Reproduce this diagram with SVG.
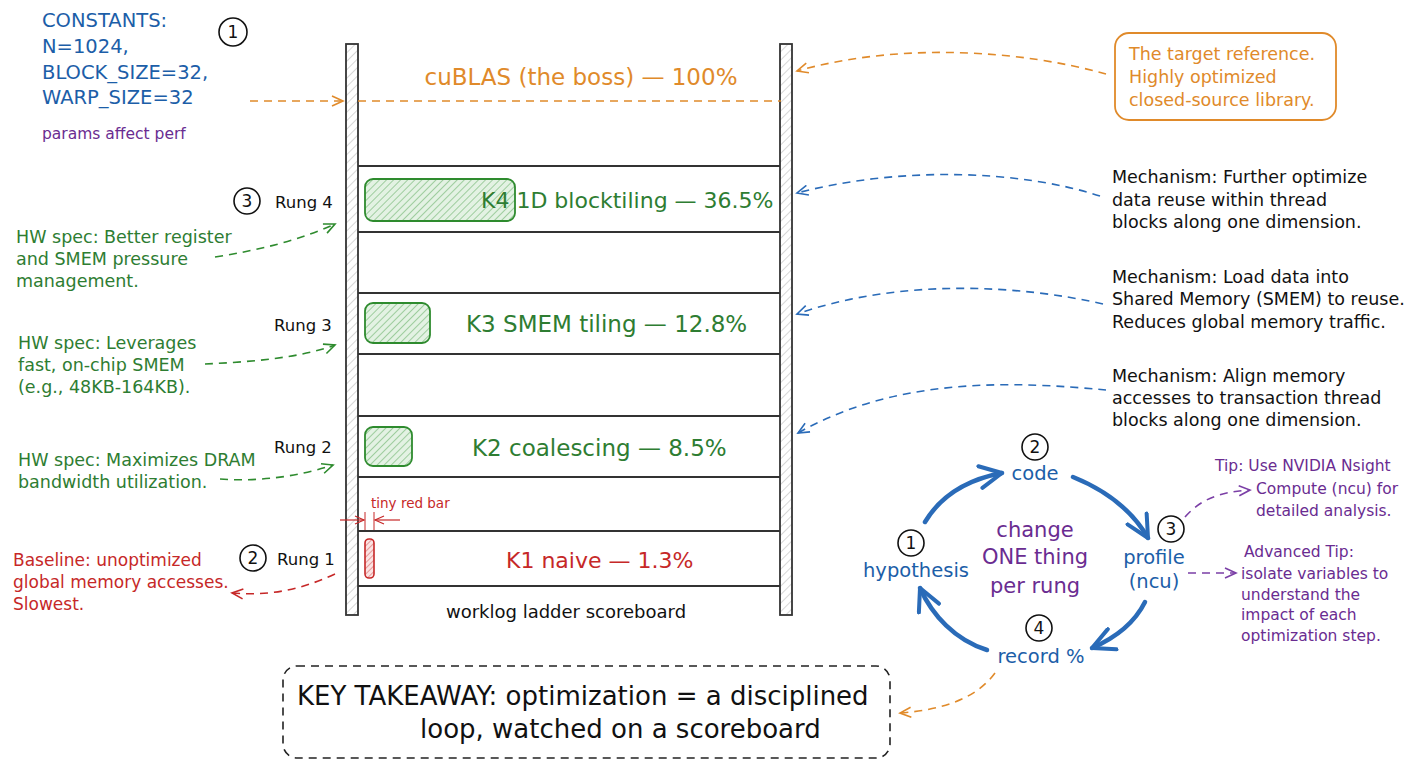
<svg xmlns="http://www.w3.org/2000/svg" width="1408" height="768" viewBox="0 0 1408 768">
<defs>
<pattern id="hatch" width="6" height="6" patternUnits="userSpaceOnUse" patternTransform="rotate(45)"><line x1="0" y1="0" x2="0" y2="6" stroke="#bbb" stroke-width="1.2"/></pattern>
<pattern id="hatchG" width="5" height="5" patternUnits="userSpaceOnUse" patternTransform="rotate(45)"><rect width="5" height="5" fill="#e3f2e3"/><line x1="0" y1="0" x2="0" y2="5" stroke="#5aa85a" stroke-width="1"/></pattern>
<pattern id="hatchR" width="4" height="4" patternUnits="userSpaceOnUse" patternTransform="rotate(45)"><rect width="4" height="4" fill="#fbe3e3"/><line x1="0" y1="0" x2="0" y2="4" stroke="#d05050" stroke-width="1"/></pattern>
<marker id="aO" markerWidth="14" markerHeight="12" refX="12" refY="6" orient="auto" markerUnits="userSpaceOnUse"><path d="M1,1 L12,6 L1,11" fill="none" stroke="#e08a2a" stroke-width="1.6"/></marker>
<marker id="aB" markerWidth="14" markerHeight="12" refX="12" refY="6" orient="auto" markerUnits="userSpaceOnUse"><path d="M1,1 L12,6 L1,11" fill="none" stroke="#2a6bb8" stroke-width="1.6"/></marker>
<marker id="aG" markerWidth="14" markerHeight="12" refX="12" refY="6" orient="auto" markerUnits="userSpaceOnUse"><path d="M1,1 L12,6 L1,11" fill="none" stroke="#2e8b2e" stroke-width="1.6"/></marker>
<marker id="aR" markerWidth="14" markerHeight="12" refX="12" refY="6" orient="auto" markerUnits="userSpaceOnUse"><path d="M1,1 L12,6 L1,11" fill="none" stroke="#c62828" stroke-width="1.6"/></marker>
<marker id="aP" markerWidth="14" markerHeight="12" refX="12" refY="6" orient="auto" markerUnits="userSpaceOnUse"><path d="M1,1 L12,6 L1,11" fill="none" stroke="#7b3fa6" stroke-width="1.6"/></marker>
<marker id="aBig" markerWidth="30" markerHeight="26" refX="24" refY="13" orient="auto" markerUnits="userSpaceOnUse"><path d="M2,2 L24,13 L2,24" fill="none" stroke="#2a6bb8" stroke-width="4" stroke-linecap="round" stroke-linejoin="round"/></marker>
<marker id="aRs" markerWidth="12" markerHeight="10" refX="10" refY="5" orient="auto" markerUnits="userSpaceOnUse"><path d="M1,1 L10,5 L1,9" fill="none" stroke="#c62828" stroke-width="1.2"/></marker>
</defs>
<style>
text{font-family:"DejaVu Sans","Liberation Sans",sans-serif;}
.blue{fill:#1c5ea8;}
.grn{fill:#2e7d32;}
.hw{fill:#2e7d32;font-size:17.5px;}
.red{fill:#c62828;}
.org{fill:#e08a2a;}
.pur{fill:#6a2c91;}
.blk{fill:#111;}
.mech{fill:#111;font-size:17.5px;}
.rung{fill:#111;font-size:16.5px;}
.tip{fill:#6a2c91;font-size:15.5px;}
.num{fill:none;stroke:#111;stroke-width:1.6;}
.numt{fill:#111;font-size:17px;text-anchor:middle;}
.rail{fill:url(#hatch);stroke:#333;stroke-width:1.8;}
.step{stroke:#333;stroke-width:2;}
.dash{fill:none;stroke-width:1.6;stroke-dasharray:8 6;}
.loop{fill:none;stroke:#2a6bb8;stroke-width:4.5;stroke-linecap:round;}
.lbl{fill:#1c5ea8;font-size:19.5px;text-anchor:middle;}
.kk{font-size:23px;}
</style>
<rect width="1408" height="768" fill="#fff"/>

<g id="constants">
<text class="blue" x="42" y="27" font-size="19.5">CONSTANTS:</text>
<text class="blue" x="42" y="53" font-size="19.5">N=1024,</text>
<text class="blue" x="42" y="79" font-size="19.5">BLOCK_SIZE=32,</text>
<text class="blue" x="42" y="104" font-size="19.5">WARP_SIZE=32</text>
<text class="pur" x="42" y="139" font-size="15.5">params affect perf</text>
<circle class="num" cx="233" cy="32" r="14"/><text class="numt" x="233" y="38">1</text>
</g>

<g id="ladder">
<rect class="rail" x="346" y="44" width="12" height="571"/>
<rect class="rail" x="780" y="44" width="12" height="571"/>
<line class="step" x1="358" y1="166" x2="780" y2="166"/>
<line class="step" x1="358" y1="232" x2="780" y2="232"/>
<line class="step" x1="358" y1="293" x2="780" y2="293"/>
<line class="step" x1="358" y1="354" x2="780" y2="354"/>
<line class="step" x1="358" y1="416" x2="780" y2="416"/>
<line class="step" x1="358" y1="477" x2="780" y2="477"/>
<line class="step" x1="358" y1="531" x2="780" y2="531"/>
<line class="step" x1="358" y1="586" x2="780" y2="586"/>
<text class="blk" x="566" y="618" font-size="18" text-anchor="middle">worklog ladder scoreboard</text>
</g>

<g id="cublas">
<text class="org" x="581" y="85" font-size="23" text-anchor="middle">cuBLAS (the boss) — 100%</text>
<line x1="358" y1="101" x2="781" y2="101" stroke="#e08a2a" stroke-width="1.6" stroke-dasharray="8 6"/>
</g>

<g id="k4">
<rect x="365" y="179" width="150" height="42" rx="8" fill="url(#hatchG)" stroke="#2e8b2e" stroke-width="1.8"/>
<text class="grn" x="481" y="208" font-size="22">K4 1D blocktiling — 36.5%</text>
</g>
<g id="k3">
<rect x="365" y="303" width="65" height="40" rx="8" fill="url(#hatchG)" stroke="#2e8b2e" stroke-width="1.8"/>
<text class="grn kk" x="466" y="332">K3 SMEM tiling — 12.8%</text>
</g>
<g id="k2">
<rect x="365" y="427" width="47" height="39" rx="8" fill="url(#hatchG)" stroke="#2e8b2e" stroke-width="1.8"/>
<text class="grn kk" x="472" y="456">K2 coalescing — 8.5%</text>
</g>
<g id="k1">
<rect x="365" y="539" width="9" height="39" rx="4" fill="url(#hatchR)" stroke="#c62828" stroke-width="1.6"/>
<text class="red" x="506" y="568" font-size="22">K1 naive — 1.3%</text>
<text class="red" x="371" y="508" font-size="13.5">tiny red bar</text>
<line x1="365" y1="512" x2="365" y2="530" stroke="#c62828" stroke-width="1"/>
<line x1="374" y1="512" x2="374" y2="530" stroke="#c62828" stroke-width="1"/>
</g>

<g id="rungs-left">
<circle class="num" cx="247" cy="201" r="13"/><text class="numt" x="247" y="207">3</text>
<text class="rung" x="275" y="208">Rung 4</text>
<text class="rung" x="274" y="331">Rung 3</text>
<text class="rung" x="274" y="453">Rung 2</text>
<circle class="num" cx="253" cy="558" r="13"/><text class="numt" x="253" y="564">2</text>
<text class="rung" x="277" y="565">Rung 1</text>
</g>

<g id="hw4"><text class="hw" x="16" y="243">HW spec: Better register</text><text class="hw" x="16" y="265">and SMEM pressure</text><text class="hw" x="16" y="287">management.</text></g>
<g id="hw3"><text class="hw" x="18" y="349">HW spec: Leverages</text><text class="hw" x="18" y="371">fast, on-chip SMEM</text><text class="hw" x="18" y="393">(e.g., 48KB-164KB).</text></g>
<g id="hw2"><text class="hw" x="18" y="466">HW spec: Maximizes DRAM</text><text class="hw" x="18" y="488">bandwidth utilization.</text></g>
<g id="baseline"><text class="red" x="13" y="566" font-size="17">Baseline: unoptimized</text><text class="red" x="13" y="588" font-size="17">global memory accesses.</text><text class="red" x="13" y="610" font-size="17">Slowest.</text></g>

<g id="target-box">
<rect x="1115" y="33" width="221" height="87" rx="14" fill="none" stroke="#e08a2a" stroke-width="1.8"/>
<text class="org" x="1129" y="60" font-size="17.5">The target reference.</text>
<text class="org" x="1129" y="83" font-size="17.5">Highly optimized</text>
<text class="org" x="1129" y="106" font-size="17.5">closed-source library.</text>
</g>

<g id="mech4"><text class="mech" x="1112" y="183">Mechanism: Further optimize</text><text class="mech" x="1112" y="206">data reuse within thread</text><text class="mech" x="1112" y="228">blocks along one dimension.</text></g>
<g id="mech3"><text class="mech" x="1112" y="283">Mechanism: Load data into</text><text class="mech" x="1112" y="305">Shared Memory (SMEM) to reuse.</text><text class="mech" x="1112" y="328">Reduces global memory traffic.</text></g>
<g id="mech2"><text class="mech" x="1112" y="382">Mechanism: Align memory</text><text class="mech" x="1112" y="404">accesses to transaction thread</text><text class="mech" x="1112" y="426">blocks along one dimension.</text></g>

<g id="loop">
<circle class="num" cx="1035" cy="447" r="13"/><text class="numt" x="1035" y="453">2</text>
<circle class="num" cx="911" cy="543" r="13"/><text class="numt" x="911" y="549">1</text>
<circle class="num" cx="1171" cy="529" r="13"/><text class="numt" x="1171" y="535">3</text>
<circle class="num" cx="1039" cy="628" r="13"/><text class="numt" x="1039" y="634">4</text>
<text class="lbl" x="1035" y="480">code</text>
<text class="lbl" x="916" y="577">hypothesis</text>
<text class="lbl" x="1154" y="564">profile</text>
<text class="lbl" x="1154" y="588">(ncu)</text>
<text class="lbl" x="1041" y="663">record %</text>
<text class="pur" x="1035" y="537" font-size="21" text-anchor="middle">change</text>
<text class="pur" x="1035" y="564" font-size="21" text-anchor="middle">ONE thing</text>
<text class="pur" x="1035" y="593" font-size="21" text-anchor="middle">per rung</text>
</g>

<g id="tips">
<text class="tip" x="1215" y="471">Tip: Use NVIDIA Nsight</text>
<text class="tip" x="1256" y="494">Compute (ncu) for</text>
<text class="tip" x="1256" y="516">detailed analysis.</text>
<text class="tip" x="1244" y="557">Advanced Tip:</text>
<text class="tip" x="1241" y="579">isolate variables to</text>
<text class="tip" x="1241" y="600">understand the</text>
<text class="tip" x="1241" y="620">impact of each</text>
<text class="tip" x="1241" y="641">optimization step.</text>
</g>

<g id="takeaway">
<rect x="283" y="666" width="607" height="92" rx="14" fill="none" stroke="#222" stroke-width="1.6" stroke-dasharray="8 6"/>
<text class="blk" x="297" y="705" font-size="26">KEY TAKEAWAY: optimization = a disciplined</text>
<text class="blk" x="420" y="738" font-size="26">loop, watched on a scoreboard</text>
</g>

<g id="connectors">
<path class="dash" stroke="#e08a2a" d="M250,101 L343,101" marker-end="url(#aO)"/>
<path class="dash" stroke="#e08a2a" d="M1106,74 C1020,50 900,42 797,71" marker-end="url(#aO)"/>
<path class="dash" stroke="#2a6bb8" d="M1100,196 C1020,170 900,166 797,193" marker-end="url(#aB)"/>
<path class="dash" stroke="#2a6bb8" d="M1103,304 C1020,285 900,278 797,314" marker-end="url(#aB)"/>
<path class="dash" stroke="#2a6bb8" d="M1106,390 C1020,382 900,375 798,433" marker-end="url(#aB)"/>
<path class="dash" stroke="#2e8b2e" d="M215,257 C260,250 300,240 335,224" marker-end="url(#aG)"/>
<path class="dash" stroke="#2e8b2e" d="M205,364 C250,362 300,358 335,345" marker-end="url(#aG)"/>
<path class="dash" stroke="#2e8b2e" d="M220,479 C260,482 300,476 333,465" marker-end="url(#aG)"/>
<path class="dash" stroke="#c62828" d="M335,574 C300,590 270,596 232,593" marker-end="url(#aR)"/>
<path class="dash" stroke="#7b3fa6" d="M1185,517 C1200,500 1218,492 1250,490" marker-end="url(#aP)"/>
<path class="dash" stroke="#7b3fa6" d="M1188,573 L1236,573" marker-end="url(#aP)"/>
<path class="dash" stroke="#e08a2a" d="M995,673 C975,700 940,710 900,713" marker-end="url(#aO)"/>
<path class="loop" d="M925,522 C940,497 965,480 1002,473" marker-end="url(#aBig)"/>
<path class="loop" d="M1073,477 C1105,490 1132,510 1148,538" marker-end="url(#aBig)"/>
<path class="loop" d="M1145,602 C1135,622 1115,638 1092,648" marker-end="url(#aBig)"/>
<path class="loop" d="M987,650 C955,640 932,615 920,588" marker-end="url(#aBig)"/>
<line x1="340" y1="520" x2="364" y2="520" stroke="#c62828" stroke-width="1.2" marker-end="url(#aRs)"/>
<line x1="400" y1="520" x2="375" y2="520" stroke="#c62828" stroke-width="1.2" marker-end="url(#aRs)"/>
</g>
</svg>
